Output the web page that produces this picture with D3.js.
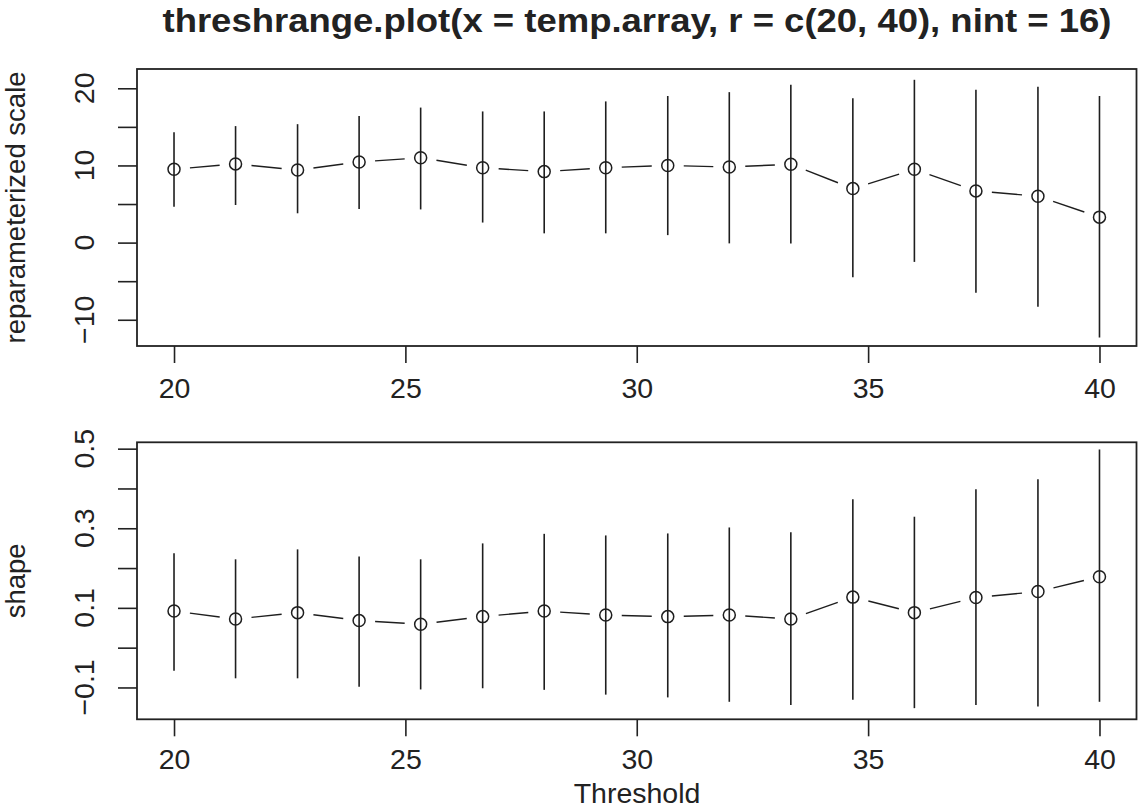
<!DOCTYPE html>
<html>
<head>
<meta charset="utf-8">
<script src="https://cdn.jsdelivr.net/npm/d3@7"></script>
<style>
  body { margin: 0; background: #fff; }
  svg { display: block; }
  text { font-family: "Liberation Sans", Arial, sans-serif; fill: #222; }
</style>
</head>
<body>
<svg id="chart"></svg>
<script>
// thresholds used by threshrange.plot (nint = 16)
const thresholds = [20, 21.33, 22.67, 24, 25.33, 26.67, 28, 29.33, 30.67, 32, 33.33, 34.67, 36, 37.33, 38.67, 40];

// reparameterized scale: estimate and CI ends
const scaleEst  = [9.5, 10.2, 9.4, 10.45, 11.0, 9.7, 9.2, 9.7, 10.0, 9.8, 10.15, 7.0, 9.5, 6.7, 6.0, 3.3];
const scaleLow  = [4.65, 4.87, 3.8, 4.35, 4.3, 2.6, 1.2, 1.2, 0.97, -0.1, -0.1, -4.5, -2.5, -6.5, -8.3, -12.3];
const scaleHigh = [14.3, 15.1, 15.35, 16.4, 17.5, 17.0, 17.0, 18.3, 19.0, 19.5, 20.45, 18.7, 21.1, 19.8, 20.2, 19.0];

// shape: estimate and CI ends
const shapeEst  = [0.092, 0.072, 0.088, 0.068, 0.059, 0.078, 0.092, 0.082, 0.078, 0.082, 0.072, 0.127, 0.088, 0.126, 0.141, 0.178];
const shapeLow  = [-0.058, -0.077, -0.077, -0.098, -0.105, -0.102, -0.106, -0.118, -0.125, -0.136, -0.144, -0.131, -0.152, -0.144, -0.148, -0.136];
const shapeHigh = [0.237, 0.222, 0.247, 0.229, 0.222, 0.262, 0.286, 0.282, 0.287, 0.302, 0.29, 0.373, 0.329, 0.398, 0.423, 0.498];

// axis ticks and labels
const xTicks = [20, 25, 30, 35, 40];
const scaleTicks = [-10, -5, 0, 5, 10, 15, 20];
const scaleLabels = [-10, 0, 10, 20];
const shapeTicks = [-0.1, 0, 0.1, 0.2, 0.3, 0.4, 0.5];
const shapeLabels = [-0.1, 0.1, 0.3, 0.5];

const title = "threshrange.plot(x = temp.array, r = c(20, 40), nint = 16)";

const width = 1148;
const height = 811;
const fontSize = 28.5;

const svg = d3.select('#chart')
              .attr('width', width)
              .attr('height', height);

svg.append('rect')
   .attr('width', width)
   .attr('height', height)
   .attr('fill', '#fff');

const xScale = d3.scaleLinear()
                 .domain([19.2, 40.8])
                 .range([137, 1136.5]);

function drawPanel(cfg) {
    const yScale = d3.scaleLinear()
                     .domain(cfg.domain)
                     .range([cfg.bottom, cfg.top]);

    const g = svg.append('g');
    const ink = '#1e1e1e';

    // CI bars
    g.selectAll('line.bar')
        .data(thresholds)
        .enter()
        .append('line')
        .attr('class', 'bar')
        .attr('x1', d => xScale(d))
        .attr('x2', d => xScale(d))
        .attr('y1', (d, i) => yScale(cfg.low[i]))
        .attr('y2', (d, i) => yScale(cfg.high[i]))
        .attr('stroke', ink)
        .attr('stroke-width', 1.6);

    // type = "b": line pieces with gaps around the points
    const pts = thresholds.map((t, i) => [xScale(t), yScale(cfg.est[i])]);
    const gap = 16;
    g.selectAll('line.seg')
        .data(d3.pairs(pts))
        .enter()
        .append('line')
        .attr('class', 'seg')
        .each(function ([a, b]) {
            const dx = b[0] - a[0], dy = b[1] - a[1];
            const len = Math.hypot(dx, dy);
            const ux = dx / len, uy = dy / len;
            d3.select(this)
              .attr('x1', a[0] + ux * gap)
              .attr('y1', a[1] + uy * gap)
              .attr('x2', b[0] - ux * gap)
              .attr('y2', b[1] - uy * gap);
        })
        .attr('stroke', ink)
        .attr('stroke-width', 1.4);

    g.selectAll('circle')
        .data(pts)
        .enter()
        .append('circle')
        .attr('cx', d => d[0])
        .attr('cy', d => d[1])
        .attr('r', 6)
        .attr('fill', 'none')
        .attr('stroke', ink)
        .attr('stroke-width', 1.5);

    // box
    g.append('rect')
        .attr('x', xScale.range()[0])
        .attr('y', cfg.top)
        .attr('width', xScale.range()[1] - xScale.range()[0])
        .attr('height', cfg.bottom - cfg.top)
        .attr('fill', 'none')
        .attr('stroke', '#222')
        .attr('stroke-width', 1.8);

    // x axis
    const xAxis = g.append('g')
        .attr('transform', `translate(0, ${cfg.bottom})`)
        .call(d3.axisBottom(xScale)
                .tickValues(xTicks)
                .tickSize(17)
                .tickPadding(cfg.xPad)
                .tickFormat(d3.format('d')));
    xAxis.select('.domain').remove();
    xAxis.selectAll('line').attr('stroke', '#222').attr('stroke-width', 1.6);
    xAxis.selectAll('text')
        .style('font-size', `${fontSize}px`)
        .style('font-family', '"Liberation Sans", Arial, sans-serif')
        .attr('fill', '#222');

    // y axis, labels drawn rotated like R's las = 0
    const yAxis = g.append('g')
        .attr('transform', `translate(${xScale.range()[0]}, 0)`)
        .call(d3.axisLeft(yScale)
                .tickValues(cfg.ticks)
                .tickSize(19)
                .tickFormat(''));
    yAxis.select('.domain').remove();
    yAxis.selectAll('line').attr('stroke', '#222').attr('stroke-width', 1.6);

    g.selectAll('text.ylab')
        .data(cfg.labels)
        .enter()
        .append('text')
        .attr('class', 'ylab')
        .attr('transform', d => `translate(94, ${yScale(d)}) rotate(-90)`)
        .attr('text-anchor', 'middle')
        .style('font-size', `${fontSize}px`)
        .text(d => cfg.fmt(d));

    g.append('text')
        .attr('transform', `translate(25, ${(cfg.top + cfg.bottom) / 2}) rotate(-90)`)
        .attr('text-anchor', 'middle')
        .style('font-size', '27.5px')
        .text(cfg.ylabel);
}

drawPanel({
    top: 69, bottom: 346,
    domain: [-13.4, 22.5],
    est: scaleEst, low: scaleLow, high: scaleHigh,
    ticks: scaleTicks, labels: scaleLabels,
    fmt: d3.format('d'),
    xPad: 15,
    ylabel: 'reparameterized scale'
});

drawPanel({
    top: 442.3, bottom: 719.3,
    domain: [-0.18, 0.516],
    est: shapeEst, low: shapeLow, high: shapeHigh,
    ticks: shapeTicks, labels: shapeLabels,
    fmt: d3.format('.1f'),
    xPad: 12,
    ylabel: 'shape'
});

svg.append('text')
   .attr('x', 637)
   .attr('y', 32)
   .attr('text-anchor', 'middle')
   .attr('textLength', 949)
   .attr('lengthAdjust', 'spacingAndGlyphs')
   .style('font-size', '33px')
   .style('font-weight', 'bold')
   .attr('fill', '#111')
   .text(title);

svg.append('text')
   .attr('x', 637)
   .attr('y', 803)
   .attr('text-anchor', 'middle')
   .style('font-size', `${fontSize}px`)
   .text('Threshold');
</script>
</body>
</html>
